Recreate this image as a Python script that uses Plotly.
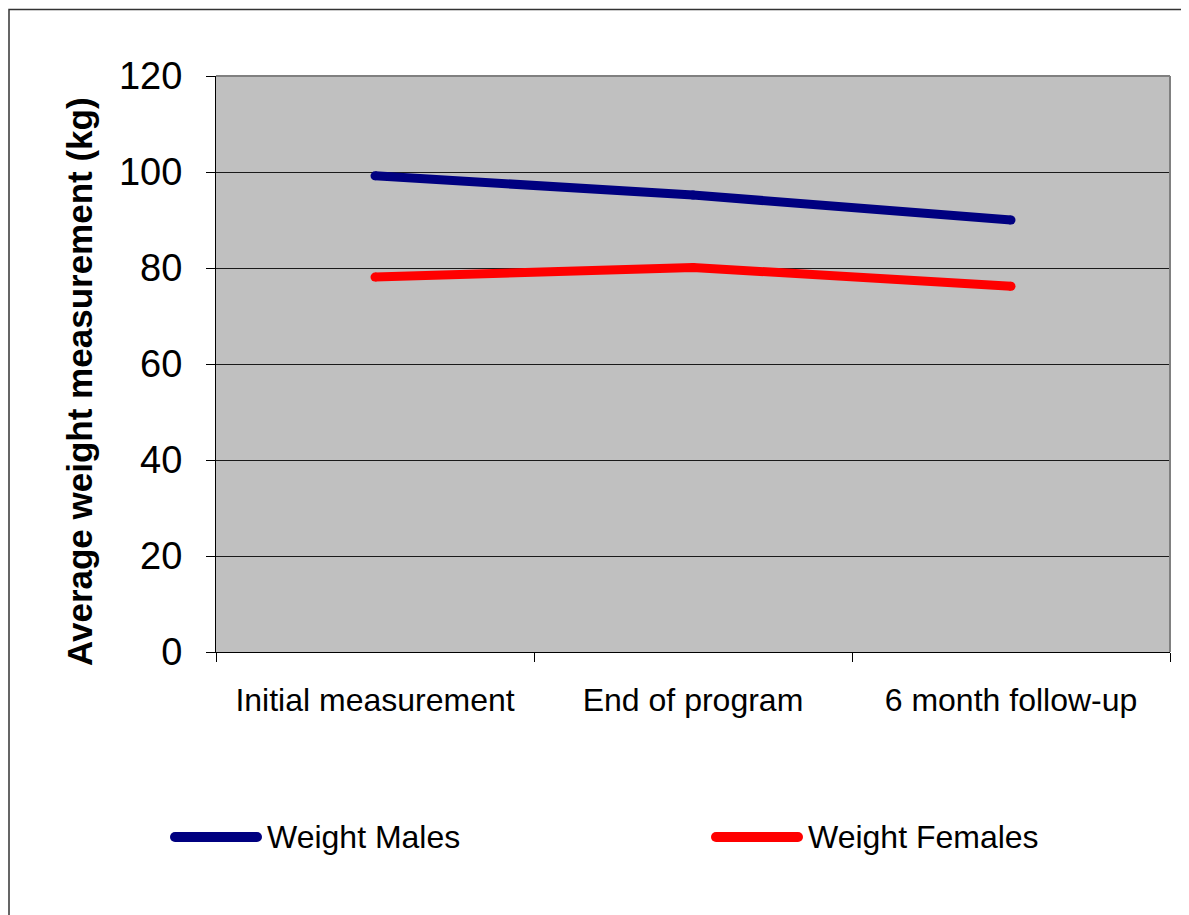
import plotly.graph_objects as go

categories = ["Initial measurement", "End of program", "6 month follow-up"]
weight_males = [99.2, 95.2, 90.0]
weight_females = [78.1, 80.1, 76.2]
series_names = ["Weight Males", "Weight Females"]
series_colors = ["#000080", "#FF0000"]
y_ticks = [0, 20, 40, 60, 80, 100, 120]
y_title = "Average weight measurement (kg)"

FONT = "Liberation Sans, Arial, sans-serif"

# the page body adds an 8px offset; the figure is sized to compensate
W, H = 1181, 907
L, R, T, B = 208, 19, 68, 263
pw, ph = W - L - R, H - T - B

fig = go.Figure()
for name, vals, col in zip(series_names, [weight_males, weight_females], series_colors):
    fig.add_trace(go.Scatter(
        x=categories, y=vals, name=name, mode="lines+markers",
        line=dict(color=col, width=9),
        marker=dict(color=col, size=9, line=dict(width=0)),
        showlegend=False, hoverinfo="x+y+name",
    ))

fig.update_layout(
    width=W, height=H,
    margin=dict(l=L, r=R, t=T, b=B),
    paper_bgcolor="white",
    plot_bgcolor="#C0C0C0",
    font=dict(family=FONT, color="black"),
    xaxis=dict(
        type="category", range=[-0.5, len(categories) - 0.5],
        tickson="boundaries", ticks="outside", ticklen=9,
        tickcolor="black", tickwidth=1, showgrid=False, automargin=False,
        showline=True, linecolor="black", linewidth=1,
        tickfont=dict(size=32, family=FONT, color="black"),
        ticklabelstandoff=20,
    ),
    yaxis=dict(
        range=[0, 120], tickvals=y_ticks, ticks="outside", ticklen=9,
        tickcolor="black", showgrid=True, gridcolor="#1a1a1a", gridwidth=1,
        showline=True, linecolor="black", linewidth=1, zeroline=False,
        automargin=False,
        tickfont=dict(size=38, family=FONT, color="black"),
        ticklabelstandoff=16,
    ),
)

# y-axis title
fig.add_annotation(xref="paper", yref="paper", x=(71 - L) / pw, y=(T + ph - 374) / ph,
                   xanchor="center", yanchor="middle", textangle=-90, showarrow=False,
                   text="<b>" + y_title + "</b>",
                   font=dict(size=35, family=FONT, color="black"))

# plot-area border (gray top and right)
fig.add_shape(type="line", xref="paper", yref="paper", x0=0, x1=1, y0=1, y1=1,
              line=dict(color="#808080", width=2), layer="above")
fig.add_shape(type="line", xref="paper", yref="paper", x0=1, x1=1, y0=0, y1=1,
              line=dict(color="#808080", width=2), layer="above")

# outer chart border
fig.add_shape(type="rect", xref="paper", yref="paper",
              x0=(1 - L) / pw, x1=(W + 20 - L) / pw,
              y0=-(H + 20 - T - ph) / ph, y1=(T + ph - 1.5) / ph,
              line=dict(color="#333333", width=1.5), fillcolor="rgba(0,0,0,0)", layer="above")

# legend drawn as shapes + text (figure pixel positions)
leg_y = (T + ph - 829) / ph
leg_items = [(167, 249, 257), (708, 790, 798)]
for (lx0, lx1, tx), name, col in zip(leg_items, series_names, series_colors):
    fig.add_shape(type="line", xref="paper", yref="paper",
                  x0=(lx0 - L) / pw, x1=(lx1 - L) / pw, y0=leg_y, y1=leg_y,
                  line=dict(color=col, width=10), layer="above")
    for ex in (lx0, lx1):
        fig.add_shape(type="circle", xref="paper", yref="paper",
                      xsizemode="pixel", ysizemode="pixel",
                      xanchor=(ex - L) / pw, yanchor=leg_y,
                      x0=-5, x1=5, y0=-5, y1=5,
                      line=dict(width=0), fillcolor=col, layer="above")
    fig.add_annotation(xref="paper", yref="paper", x=(tx - L) / pw, y=leg_y,
                       xanchor="left", yanchor="middle", showarrow=False,
                       text=name, font=dict(size=32, family=FONT, color="black"))

fig.write_html("out.html")
